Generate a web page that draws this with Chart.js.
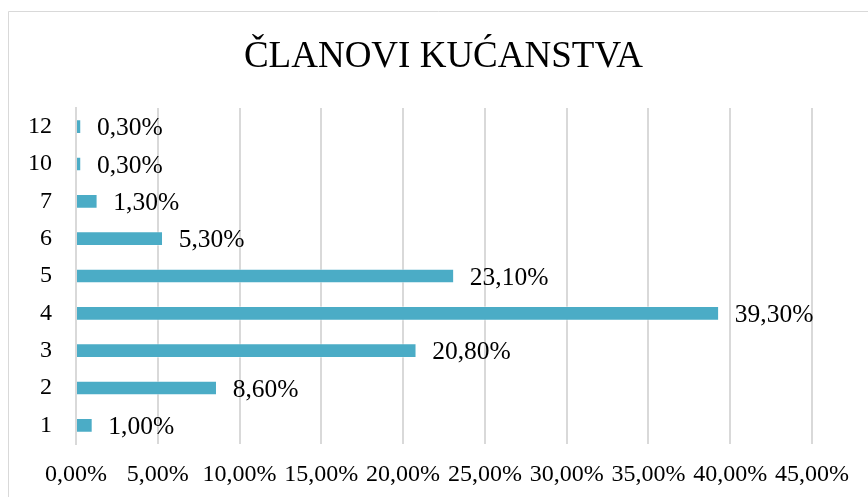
<!DOCTYPE html>
<html>
<head>
<meta charset="utf-8">
<script src="https://cdn.jsdelivr.net/npm/chart.js@4/dist/chart.umd.min.js"></script>
<style>
  html, body { margin: 0; padding: 0; background: #fff; }
  #wrap { position: relative; width: 868px; height: 497px; }
</style>
</head>
<body>
<div id="wrap"><canvas id="c" width="868" height="497"></canvas></div>
<script>
const titleText = 'ČLANOVI KUĆANSTVA';
const categories = ['1', '2', '3', '4', '5', '6', '7', '10', '12'];
const values = [1.0, 8.6, 20.8, 39.3, 23.1, 5.3, 1.3, 0.3, 0.3];
const xTickValues = [0, 5, 10, 15, 20, 25, 30, 35, 40, 45];

const serif = '"Liberation Serif", "Times New Roman", "DejaVu Serif", serif';
const fmt = v => v.toFixed(2).replace('.', ',') + '%';

const framePlugin = {
  id: 'frame',
  beforeDraw(chart) {
    const ctx = chart.ctx;
    ctx.save();
    ctx.fillStyle = '#ffffff';
    ctx.fillRect(0, 0, chart.width, chart.height);
    ctx.strokeStyle = '#d9d9d9';
    ctx.lineWidth = 1;
    ctx.beginPath();
    ctx.moveTo(8.5, chart.height + 5);
    ctx.lineTo(8.5, 11.5);
    ctx.lineTo(chart.width + 5, 11.5);
    ctx.stroke();
    ctx.fillStyle = '#000';
    ctx.font = '37px ' + serif;
    ctx.textAlign = 'center';
    ctx.textBaseline = 'alphabetic';
    ctx.fillText(titleText, 443.5, 67);
    ctx.restore();
  }
};

const labelPlugin = {
  id: 'barLabels',
  afterDatasetsDraw(chart) {
    const ctx = chart.ctx;
    const meta = chart.getDatasetMeta(0);
    ctx.save();
    ctx.fillStyle = '#000';
    ctx.font = '25.5px ' + serif;
    ctx.textAlign = 'left';
    ctx.textBaseline = 'middle';
    meta.data.forEach((el, i) => {
      ctx.fillText(fmt(values[i]), el.x + 16, el.y + 2);
    });
    ctx.restore();
  }
};

new Chart(document.getElementById('c'), {
  type: 'bar',
  data: {
    labels: categories,
    datasets: [{
      data: values,
      backgroundColor: '#4bacc6',
      borderColor: 'rgba(255,255,255,0.35)',
      borderWidth: 1,
      barThickness: 14
    }]
  },
  options: {
    indexAxis: 'y',
    responsive: false,
    animation: false,
    devicePixelRatio: 1,
    layout: { padding: { left: 0, right: 56, top: 108, bottom: 0 } },
    plugins: {
      legend: { display: false },
      title: { display: false },
      tooltip: { enabled: false }
    },
    scales: {
      x: {
        min: 0,
        max: 45,
        afterBuildTicks(scale) { scale.ticks = xTickValues.map(v => ({ value: v })); },
        afterFit(scale) { scale.height = 53; },
        grid: { color: '#d9d9d9', lineWidth: 2, drawTicks: false },
        border: { display: false },
        ticks: {
          color: '#000',
          font: { family: serif, size: 24 },
          padding: 16,
          maxRotation: 0,
          autoSkip: false,
          callback: v => fmt(v)
        }
      },
      y: {
        reverse: true,
        afterFit(scale) { scale.width = 76; },
        grid: { display: false, drawTicks: false },
        border: { display: true, color: '#d9d9d9', width: 2 },
        ticks: {
          color: '#000',
          font: { family: serif, size: 24 },
          padding: 24
        }
      }
    }
  },
  plugins: [framePlugin, labelPlugin]
});
</script>
</body>
</html>
